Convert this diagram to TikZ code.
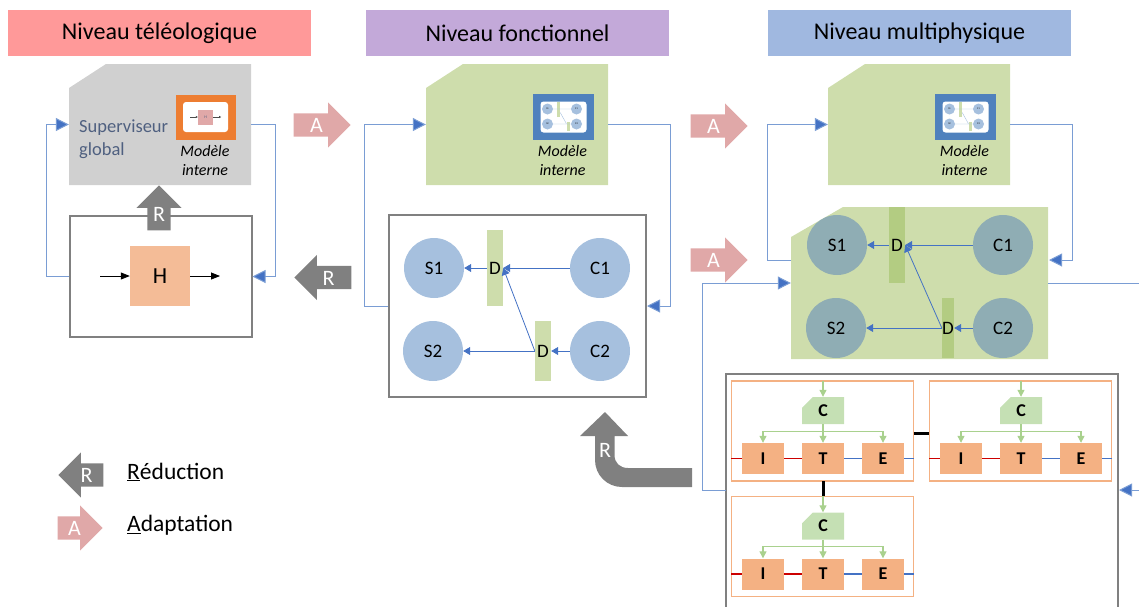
\documentclass[tikz,border=0pt]{standalone}
\usepackage{fontspec}
\setmainfont{Carlito}
\usepackage{tikz}
\usetikzlibrary{arrows.meta,shapes.misc,shapes.arrows}
\definecolor{title red}{HTML}{FF9999}
\definecolor{title purple}{HTML}{C3A9D9}
\definecolor{title blue}{HTML}{A0B8E0}
\definecolor{pale green}{HTML}{CEDDAC}
\definecolor{strong green}{HTML}{B3CC82}
\definecolor{soft gray}{HTML}{D0D0D0}
\definecolor{link blue}{HTML}{7A9DD4}
\definecolor{head blue}{HTML}{4472C4}
\definecolor{circle blue}{HTML}{A6C0DE}
\definecolor{circle teal}{HTML}{8FADB4}
\definecolor{rose}{HTML}{E0A8A8}
\definecolor{salmon}{HTML}{F4BC97}
\definecolor{cell orange}{HTML}{F4B183}
\definecolor{ctrl green}{HTML}{C5E0B4}
\definecolor{wire green}{HTML}{A9D18E}
\definecolor{frame orange}{HTML}{ED7D31}
\definecolor{frame blue}{HTML}{4F81BD}
\definecolor{slate}{HTML}{4F6080}
\tikzset{
	title/.style = {minimum width=303, minimum height=46, font=\fontsize{24}{28}\selectfont},
	frame/.style = {draw=gray, line width=2, inner sep=0},
	loop/.style = {link blue, line width=1, -{Triangle[length=13,width=13,fill=head blue]}},
	small/.style = {head blue, line width=0.8, -{Triangle[length=7,width=8]}},
	disc/.style = {circle, minimum size=60, inner sep=0, font=\fontsize{19}{20}\selectfont},
	dec/.style = {minimum width=16, inner sep=0, fill=pale green, font=\fontsize{19}{20}\selectfont},
	internal/.style = {align=center, font=\fontsize{16}{19}\selectfont\itshape},
	redarrow/.style = {single arrow, fill=gray, text=white, inner sep=0, minimum height=57, minimum width=45,
		text height=19, text depth=4, single arrow head extend=11, single arrow head indent=0,
		font=\fontsize{22}{24}\selectfont},
	addarrow/.style = {redarrow, fill=rose},
	module/.style = {minimum width=182, minimum height=100, inner sep=0},
	block/.style = {fill=cell orange, minimum width=42, minimum height=31, inner sep=0, font=\fontsize{18}{20}\selectfont\bfseries},
	ctrl/.style = {chamfered rectangle, chamfered rectangle corners=north west, fill=ctrl green, inner sep=0,
		chamfered rectangle xsep=13, chamfered rectangle ysep=10, minimum width=42, minimum height=27,
		font=\fontsize{18}{20}\selectfont\bfseries},
	wire/.style = {wire green, line width=1.2, -{Triangle[length=7,width=7]}},
	legend/.style = {anchor=west, inner sep=0, font=\fontsize{23.5}{28}\selectfont}
}
\newcommand{\cutshape}[8]{% name, colour, left, top, right, bottom, cut in x, cut in y
	\fill[#2] (#3+#7,#4) -- (#5,#4) -- (#5,#6) -- (#3,#6) -- (#3,#4+#8) -- cycle;
	\node[minimum width=#5-#3, minimum height=#6-#4, inner sep=0] (#1) at ({(#3+#5)/2},{(#4+#6)/2}) {};
}
\newcommand{\minifunc}[3]{% small picture of the functional level
	\node[fill=frame blue, minimum width=61, minimum height=46, inner sep=0] (#1) at (#2,#3) {};
	\node[fill=white, rounded corners=3, minimum width=46, minimum height=31, inner sep=0] (#1w) at (#1) {};
	\foreach \nm/\dx/\dy/\lab in {a/-16/-8/S1, b/13/-8/C1, c/-16/7/S2, d/13/7/C2}
		\node[circle, fill=circle blue, minimum size=11, inner sep=0, font=\fontsize{2.5}{3}\selectfont] (#1\nm) at (#2+\dx,#3+\dy) {\lab};
	\node[fill=pale green, minimum width=3, minimum height=15, inner sep=0] (#1e) at (#2-5,#3-7.5) {};
	\node[fill=pale green, minimum width=3, minimum height=9, inner sep=0] (#1f) at (#2+4.5,#3+9.5) {};
	\draw[circle blue, line width=0.4] (#1a) -- (#1b) (#1c) -- (#1d) (#1e) -- (#1f);
}
\begin{document}
\begin{tikzpicture}[x=1pt, y=-1pt]
	\useasboundingbox (0,0) rectangle (1139,606);
	\clip (0,0) rectangle (1139,606);
	% titles
	\node[title, fill=title red] (tele) at (159.5,33) {Niveau téléologique};
	\node[title, fill=title purple] (fonc) at (517.5,33) {Niveau fonctionnel};
	\node[title, fill=title blue] (multi) at (919.5,33) {Niveau multiphysique};
	% left level
	\cutshape{sup}{soft gray}{69}{64}{251}{185}{37}{24}
	\node[anchor=west, inner sep=0, align=left, text=slate, font=\fontsize{18.5}{23}\selectfont] (suplabel) at (79,139) {Superviseur\\global};
	\node[fill=frame orange, minimum width=60, minimum height=45, inner sep=0] (supthumb) at (206,117.5) {};
	\node[fill=white, rounded corners=3, minimum width=45, minimum height=30, inner sep=0] (supthumbw) at (205.5,117) {};
	\node[fill=rose, minimum size=15, inner sep=0, text=slate, font=\fontsize{4}{4}\selectfont] (supthumbh) at (205.5,117) {H};
	\draw[black!70, line width=0.5, {Triangle[length=2,width=2]}-] (supthumbh.west) -- ++(-8,0);
	\draw[black!70, line width=0.5, -{Triangle[length=2,width=2]}] (supthumbh.east) -- ++(8,0);
	\node[internal] (supint) at (205,160.5) {Modèle\\interne};
	\node[frame, minimum width=182, minimum height=121] (hbox) at (160.5,276.5) {};
	\node[fill=salmon, minimum size=60, inner sep=0, font=\fontsize{23}{24}\selectfont] (h) at (160,276) {H};
	\coordinate (hin) at (100,276);
	\coordinate (hout) at (220,276);
	\draw[line width=0.8, -{Triangle[length=9,width=7]}] (hin) -- (h);
	\draw[line width=0.8, -{Triangle[length=9,width=7]}] (h) -- (hout);
	\draw[loop] (hbox.west) -- ++(-22,0) |- (sup.west);
	\draw[loop] (sup.east) -- ++(24,0) |- (hbox.east);
	\node[redarrow, shape border rotate=90, anchor=tip, minimum height=45, text height=0, text depth=0, text width=23] (upred) at (159,185) {};
	\node[text=white, font=\fontsize{22}{24}\selectfont] (upredlabel) at (159,214) {R};
	% middle level
	\cutshape{fsup}{pale green}{426}{64}{608}{185}{37}{24}
	\minifunc{fthumb}{563.5}{117}
	\node[internal] (fint) at (562.5,160.5) {Modèle\\interne};
	\node[frame, minimum width=257, minimum height=182] (fbox) at (517.5,306) {};
	\node[disc, fill=circle blue] (fs1) at (434,268) {S1};
	\node[disc, fill=circle blue] (fs2) at (433,351) {S2};
	\node[disc, fill=circle blue] (fc1) at (600,268) {C1};
	\node[disc, fill=circle blue] (fc2) at (600,351) {C2};
	\node[dec, minimum height=76] (fd1) at (495,268) {D};
	\node[dec, minimum height=60] (fd2) at (543,351) {D};
	\draw[small] (fc1) -- (fd1.east);
	\draw[small] (fd1) -- (fs1);
	\draw[small] (fc2) -- (fd2.east);
	\draw[small] (fd2.west) -- (fs2);
	\draw[small] (fd2.west) -- (fd1.east);
	\draw[loop] (fbox.west) -- ++(-24,0) |- (fsup.west);
	\draw[loop] (fsup.east) -- ++(62,0) |- (fbox.east);
	% arrows between levels
	\node[addarrow, shape border rotate=0, anchor=tip] (add1) at (351,125) {A};
	\node[redarrow, shape border rotate=180, anchor=tip] (red1) at (294,277.5) {R};
	\node[addarrow, shape border rotate=0, anchor=tip] (add2) at (748,126) {A};
	\node[addarrow, shape border rotate=0, anchor=tip] (add3) at (748,260) {A};
	% right level
	\cutshape{msup}{pale green}{828}{64}{1010}{185}{37}{24}
	\minifunc{mthumb}{965.5}{117}
	\node[internal] (mint) at (964.5,160.5) {Modèle\\interne};
	\cutshape{mfun}{pale green}{791}{207}{1048}{359}{52}{30}
	\node[disc, fill=circle teal] (ms1) at (837,245) {S1};
	\node[disc, fill=circle teal] (ms2) at (836,328) {S2};
	\node[disc, fill=circle teal] (mc1) at (1003,245) {C1};
	\node[disc, fill=circle teal] (mc2) at (1003,328) {C2};
	\node[dec, fill=strong green, minimum height=76] (md1) at (897,245) {D};
	\node[dec, fill=strong green, minimum width=12, minimum height=60] (md2) at (948,328) {D};
	\draw[small] (mc1) -- (md1.east);
	\draw[small] (md1) -- (ms1);
	\draw[small] (mc2) -- (md2.east);
	\draw[small] (md2.west) -- (ms2);
	\draw[small] (md2.west) -- (md1.east);
	\coordinate (mfunleft) at (791,260);
	\coordinate (mfunright) at (1049,260);
	\draw[loop] (mfunleft) -- ++(-24,0) |- (msup.west);
	\draw[loop] (msup.east) -- ++(62,0) |- (mfunright);
	% physical models, lower edge is outside the page
	\node[frame, minimum width=392, minimum height=300] (mbox) at (922,524) {};
	\coordinate (mboxleft) at (726,490);
	\coordinate (mboxright) at (1119,490);
	\coordinate (pageright) at (1139,283);
	\coordinate (pagelow) at (1139,490);
	\draw[loop] (mboxleft) -- ++(-24,0) |- (mfun.west);
	\draw[link blue, line width=1] (mfun.east) -- (pageright);
	\draw[loop] (pagelow) -- (mboxright);
	\foreach \m/\mx/\my in {a/0/0, b/198/0, c/0/115.5} {
		\node[module] (box\m) at (822.5+\mx,431+\my) {};
		\draw[cell orange, line width=1.5] (box\m.north west) rectangle (box\m.south east);
		\node[ctrl] (c\m) at (823+\mx,410.5+\my) {C};
		\node[block] (i\m) at (763+\mx,458.5+\my) {I};
		\node[block] (t\m) at (823+\mx,458.5+\my) {T};
		\node[block] (e\m) at (883+\mx,458.5+\my) {E};
		\draw[red!80!black, line width=1.2] (box\m.west |- i\m.west) -- (i\m.west) (i\m.east) -- (t\m.west);
		\draw[head blue, line width=1.2] (t\m.east) -- (e\m.west) (e\m.east) -- (box\m.east |- e\m.east);
		\draw[wire] (box\m.north -| c\m.north) -- (c\m.north);
		\draw[wire] (c\m.south) -- (t\m.north);
		\draw[wire] (c\m.south) ++(0,7) -| (i\m.north);
		\draw[wire] (c\m.south) ++(0,7) -| (e\m.north);
	}
	\draw[black, line width=3] (boxa.south -| ca.south) -- (boxc.north -| cc.north);
	\draw[black, line width=3] (boxa.east |- 0,433) -- (boxb.west |- 0,433);
	% bent arrow and legend
	\fill[gray] (605,412) -- (628,436) -- (614.5,436) -- (614.5,455) .. controls (614.5,463) and (620,468) .. (628,468)
		-- (692,468) -- (692,487) -- (622,487) .. controls (607,487) and (595,475) .. (595,460) -- (595,436) -- (580,436) -- cycle;
	\node[text=white, font=\fontsize{22}{24}\selectfont] (bentlabel) at (605,450) {R};
	\node[redarrow, shape border rotate=180, anchor=tip, minimum height=45] (legr) at (58,475) {R};
	\node[addarrow, shape border rotate=0, anchor=tip, minimum height=45] (lega) at (103,528) {A};
	\node[legend] (legrtext) at (127,472) {\underline{R}éduction};
	\node[legend] (legatext) at (127,525.5) {\underline{A}daptation};
\end{tikzpicture}
\end{document}
